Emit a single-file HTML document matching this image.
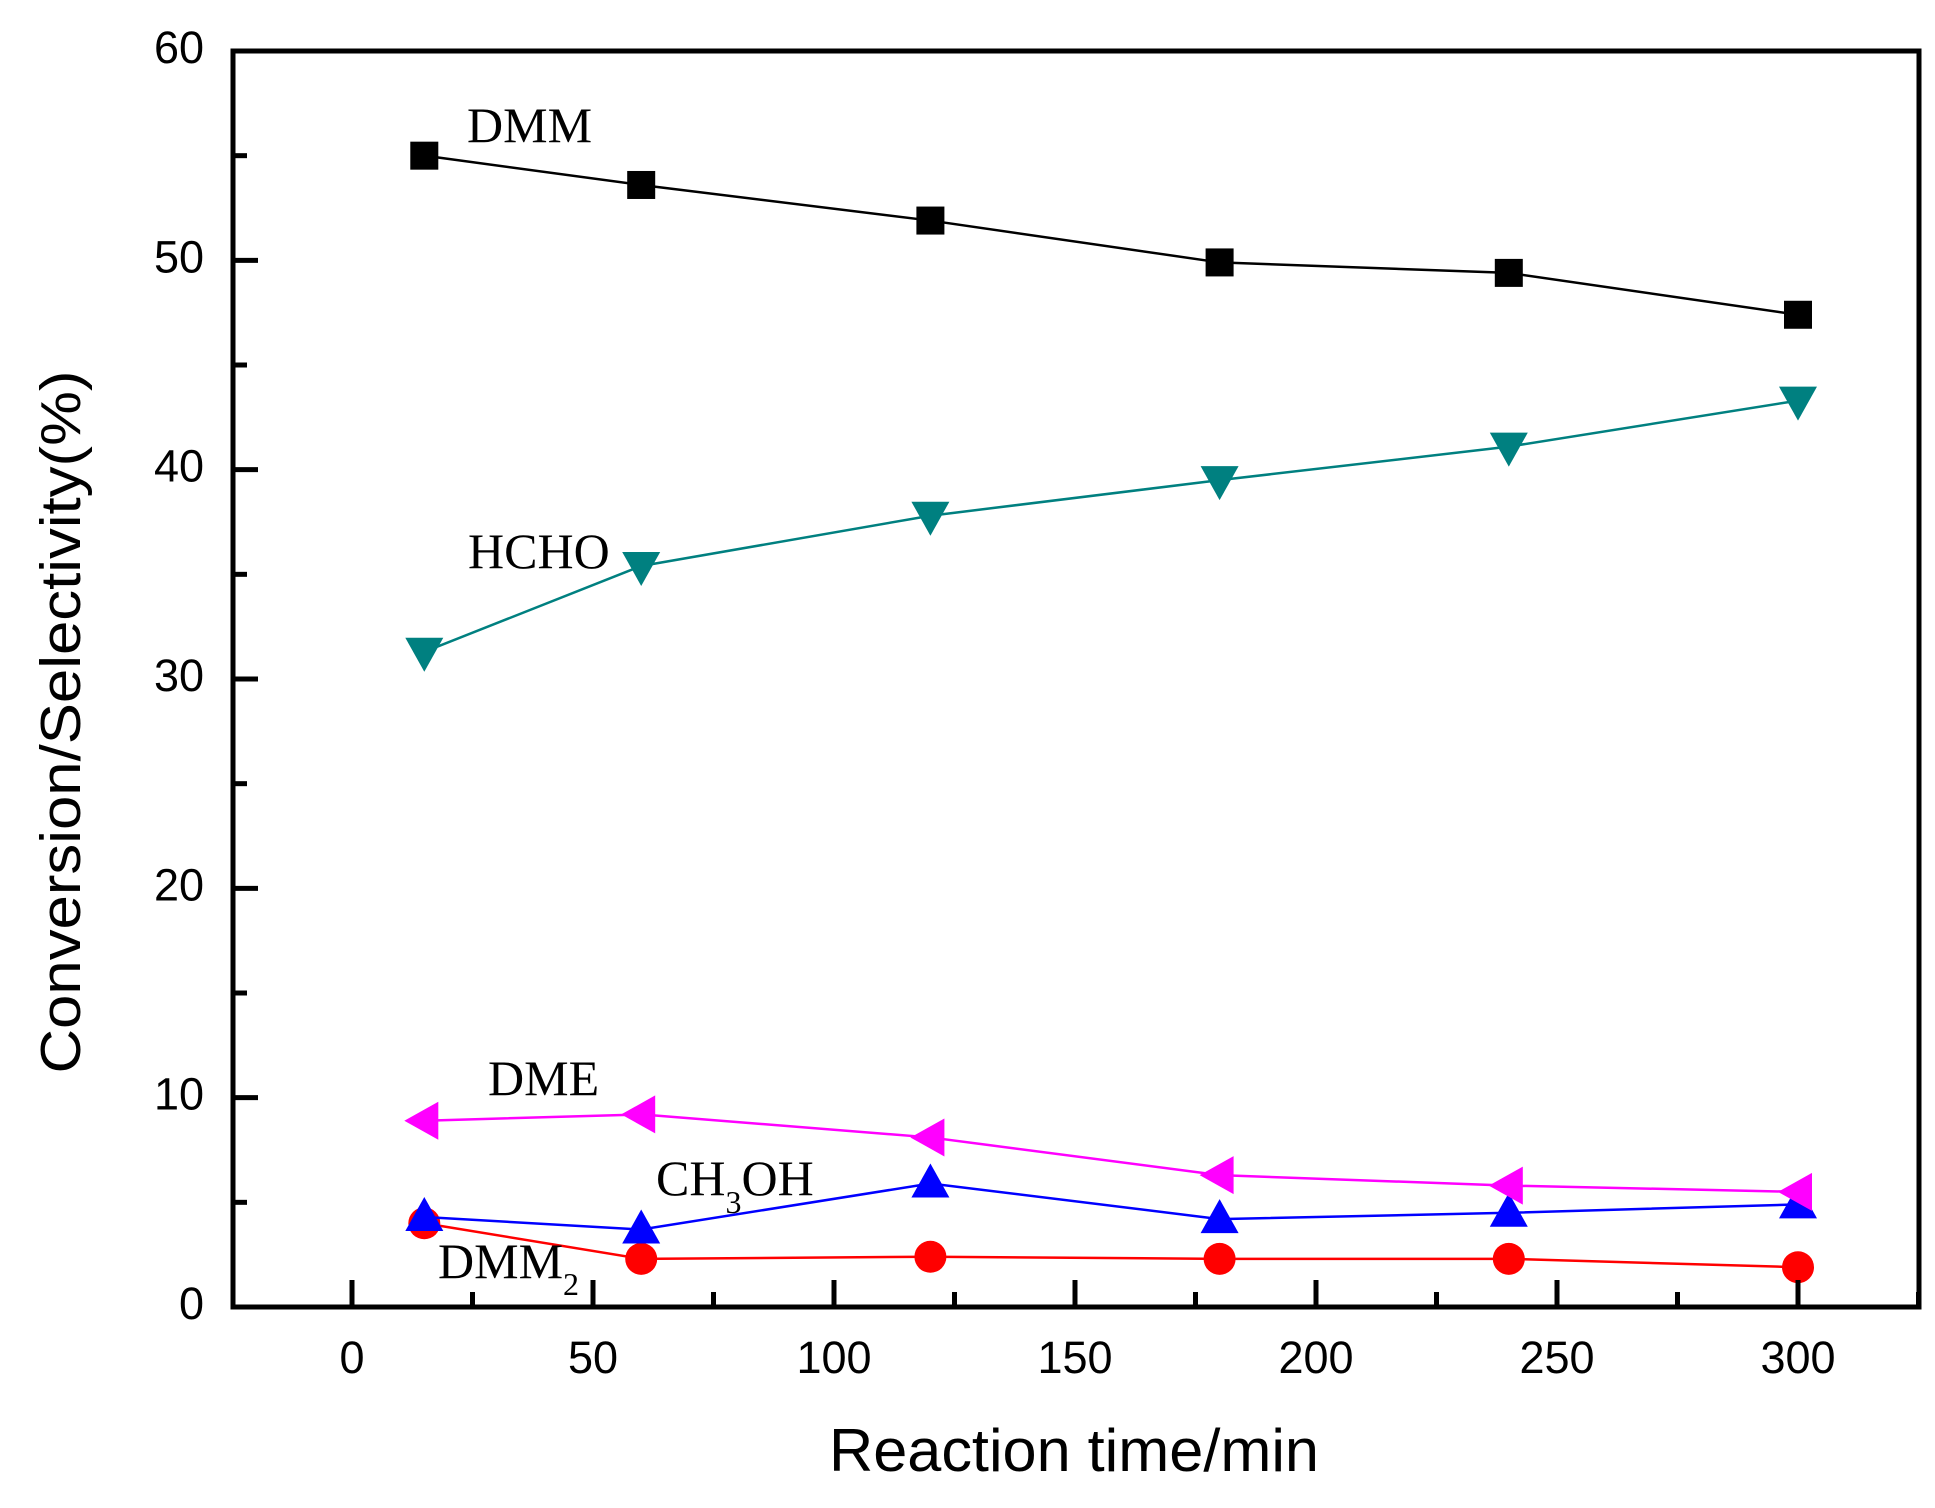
<!DOCTYPE html>
<html><head><meta charset="utf-8"><style>
html,body{margin:0;padding:0;background:#fff;}
svg{display:block;}
</style></head><body>
<svg id="chart" width="1935" height="1508" viewBox="0 0 1935 1508" xmlns="http://www.w3.org/2000/svg">
<rect x="0" y="0" width="1935" height="1508" fill="#fff"/>
<g id="series"></g>
<g id="axes"></g>
<g font-family="Liberation Serif, serif" font-size="50" fill="#000">
<text x="467" y="142">DMM</text>
<text x="468" y="568">HCHO</text>
<text x="488" y="1095">DME</text>
<text x="656" y="1195">CH<tspan font-size="32" dy="18">3</tspan><tspan dy="-18">OH</tspan></text>
<text x="438" y="1278">DMM<tspan font-size="32" dy="17">2</tspan></text>
</g>
<text x="1074" y="1471" text-anchor="middle" font-family="Liberation Sans, sans-serif" font-size="60" textLength="490" lengthAdjust="spacingAndGlyphs">Reaction time/min</text>
<text transform="translate(80,722) rotate(-90)" text-anchor="middle" font-family="Liberation Sans, sans-serif" font-size="57" textLength="703" lengthAdjust="spacingAndGlyphs">Conversion/Selectivity(%)</text>
</svg>
<script>
const times = [15, 60, 120, 180, 240, 300];
const dmm = [55.0, 53.6, 51.9, 49.9, 49.4, 47.4];
const hcho = [31.3, 35.4, 37.8, 39.5, 41.1, 43.3];
const dme = [8.9, 9.2, 8.1, 6.3, 5.8, 5.5];
const ch3oh = [4.3, 3.7, 5.9, 4.2, 4.5, 4.9];
const dmm2 = [4.0, 2.3, 2.4, 2.3, 2.3, 1.9];
const xTicks = [0, 50, 100, 150, 200, 250, 300];
const yTicks = [0, 10, 20, 30, 40, 50, 60];

const NS = 'http://www.w3.org/2000/svg';
const L = 233, R = 1919, T = 51, B = 1307;
function xs(v){ return 352 + (v - 0) * (1798 - 352) / 300; }
function ys(v){ return B - v * (B - T) / 60; }
function mk(tag, attrs, parent){
  const e = document.createElementNS(NS, tag);
  for (const k in attrs) e.setAttribute(k, attrs[k]);
  parent.appendChild(e);
  return e;
}
const sg = document.getElementById('series');
const ag = document.getElementById('axes');

function drawSeries(name, vals, color, shape){
  const g = mk('g', {}, sg);
  
  
  const pts = vals.map((v, i) => xs(times[i]) + ',' + ys(v)).join(' ');
  const pl = mk('polyline', {points: pts, fill: 'none', stroke: color, 'stroke-width': 2.5}, g);
  
  
  vals.forEach((v, i) => {
    const cx = xs(times[i]), cy = ys(v);
    let m;
    if (shape === 'square') m = mk('rect', {x: cx - 14, y: cy - 14, width: 28, height: 28, fill: color}, g);
    else if (shape === 'circle') m = mk('circle', {cx: cx, cy: cy, r: 16, fill: color}, g);
    else if (shape === 'up') m = mk('polygon', {points: `${cx},${cy-20} ${cx+19},${cy+14} ${cx-19},${cy+14}`, fill: color}, g);
    else if (shape === 'down') m = mk('polygon', {points: `${cx},${cy+20} ${cx+19},${cy-14} ${cx-19},${cy-14}`, fill: color}, g);
    else m = mk('polygon', {points: `${cx-20},${cy} ${cx+14},${cy-19} ${cx+14},${cy+19}`, fill: color}, g);
    
    
  });
}
drawSeries('dmm2', dmm2, '#ff0000', 'circle');
drawSeries('ch3oh', ch3oh, '#0000ff', 'up');
drawSeries('dme', dme, '#ff00ff', 'left');
drawSeries('hcho', hcho, '#008080', 'down');
drawSeries('dmm', dmm, '#000000', 'square');

const frame = mk('rect', {x: L, y: T, width: R - L, height: B - T, fill: 'none', stroke: '#000', 'stroke-width': 5}, ag);



xTicks.forEach((v, i) => {
  const x = xs(v);
  const t = mk('line', {x1: x, x2: x, y1: B, y2: B - 27, stroke: '#000', 'stroke-width': 5}, ag);
  
  
  const lb = mk('text', {x: x, y: 1373, 'text-anchor': 'middle', 'font-family': 'Liberation Sans, sans-serif', 'font-size': 45}, ag);
  lb.textContent = v;
  
  
  if (i < xTicks.length - 1) {
    const xm = xs((v + xTicks[i + 1]) / 2);
    const mt = mk('line', {x1: xm, x2: xm, y1: B, y2: B - 15, stroke: '#000', 'stroke-width': 5}, ag);
    
    
  }
});
[-25, 325].forEach(v => {
  const xm = xs(v);
  if (xm > L && xm < R) {
    const mt = mk('line', {x1: xm, x2: xm, y1: B, y2: B - 15, stroke: '#000', 'stroke-width': 5}, ag);
    
    
  }
});
yTicks.forEach((v, i) => {
  const y = ys(v);
  const t = mk('line', {x1: L, x2: L + 25, y1: y, y2: y, stroke: '#000', 'stroke-width': 5}, ag);
  
  
  const lb = mk('text', {x: 204, y: y + 12, 'text-anchor': 'end', 'font-family': 'Liberation Sans, sans-serif', 'font-size': 45}, ag);
  lb.textContent = v;
  
  
  if (i < yTicks.length - 1) {
    const ym = ys((v + yTicks[i + 1]) / 2);
    const mt = mk('line', {x1: L, x2: L + 14, y1: ym, y2: ym, stroke: '#000', 'stroke-width': 5}, ag);
    
    
  }
});
</script>
</body></html>
